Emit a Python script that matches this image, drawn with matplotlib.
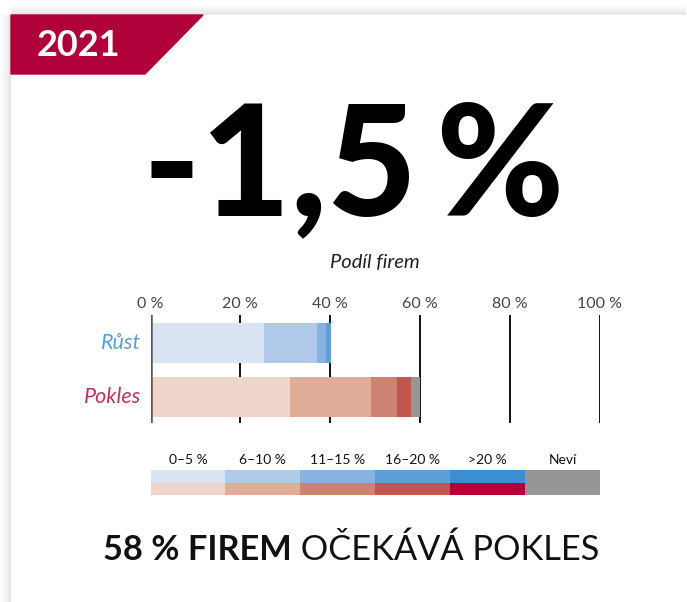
import numpy as np
import matplotlib
matplotlib.use("Agg")
import matplotlib.pyplot as plt
from matplotlib.patches import Polygon, Rectangle

# ---- data ----
year = "2021"
headline = "-1,5\u2009%"
categories = ["Růst", "Pokles"]
ranges = ["0–5 %", "6–10 %", "11–15 %", "16–20 %", ">20 %"]
nevi_label = "Neví"
rust = [25.3, 11.8, 2.0, 1.0, 0.0]
pokles = [31.1, 18.0, 5.8, 3.1, 0.0]
nevi = [0.0, 2.0]
ticks = [0, 20, 40, 60, 80, 100]
tick_labels = ["0 %", "20 %", "40 %", "60 %", "80 %", "100 %"]
axis_title = "Podíl firem"
summary_bold = "58 % FIREM"
summary_rest = " OČEKÁVÁ POKLES"

blues = ["#d9e3f4", "#b1caea", "#8ab2e0", "#5f9fd7", "#3a8ed1"]
reds = ["#efd5ca", "#dfad98", "#ce8372", "#bf5650", "#b3003b"]
grey = "#969696"
banner_red = "#b0003a"

FONT = ["Lato", "DejaVu Sans"]
plt.rcParams["font.family"] = FONT

W, H = 687, 602
fig = plt.figure(figsize=(W / 100, H / 100), dpi=100)
fig.patch.set_facecolor("white")

bg = fig.add_axes([0, 0, 1, 1])
bg.set_xlim(0, W)
bg.set_ylim(H, 0)
bg.axis("off")

# card shadow
g = np.linspace(0, 1, 64)
top = np.tile(g[:, None], (1, 2))
bg.imshow(top, extent=(11, 686, 15, 4), cmap="Greys", vmin=0, vmax=5, aspect="auto",
          interpolation="bilinear", zorder=0)
left = np.tile(g[None, :], (2, 1))
bg.imshow(left, extent=(0, 11, H, 15), cmap="Greys", vmin=0, vmax=5, aspect="auto",
          interpolation="bilinear", zorder=0)
bg.add_patch(Rectangle((11, 15), W - 11, H - 15, color="white", zorder=1))

# banner
bg.add_patch(Polygon([(11, 15), (203, 15), (145, 74), (11, 74)], closed=True,
                     color=banner_red, zorder=2))
bg.text(78, 46, year, color="white", fontsize=26, fontweight="bold", ha="center",
        va="center", zorder=3)

fig.canvas.draw()
r = fig.canvas.get_renderer()

# headline, scaled to span x 147..560
hl = bg.text(353.5, 215, headline, fontsize=104, fontweight="black", ha="center",
             va="baseline", color="black", zorder=3)
wh = hl.get_window_extent(r).width
hl.set_fontsize(104 * 422 / wh)

bg.text(375, 262, axis_title, fontsize=14.5, style="italic",
        ha="center", va="center", color="#222222", zorder=3)

# ---- bar chart ----
ax = fig.add_axes([150.5 / W, (H - 423) / H, 449 / W, 108 / H])
ax.set_xlim(0, 100)
ax.set_ylim(1.481, -0.5185)
ax.axis("off")
ypos = [0, 1]
lefts = [0.0, 0.0]
for i in range(len(ranges)):
    vals = [rust[i], pokles[i]]
    ax.barh(ypos, vals, left=lefts, height=0.74, color=[blues[i], reds[i]],
            linewidth=0, zorder=2)
    lefts = [lefts[0] + vals[0], lefts[1] + vals[1]]
ax.barh(ypos, nevi, left=lefts, height=0.74, color=grey, linewidth=0, zorder=2)
for t in ticks:
    ax.axvline(t, color="#555555" if t == 0 else "#111111",
               lw=1.8 if t == 0 else 1.4, zorder=1 if t else 3)
for t, lab in zip(ticks, tick_labels):
    ax.text(t, -0.59, lab, ha="center", va="bottom",
            fontsize=11.5, color="#444444")
cat_colors = ["#5b9fd6", "#c2305c"]
for y, c, col in zip(ypos, categories, cat_colors):
    ax.text(-2.0, y, c, ha="right", va="center", fontsize=15.5, style="italic",
            color=col)

# ---- legend ----
lg = fig.add_axes([150.5 / W, (H - 495) / H, 449.5 / W, 25 / H])
lg.set_xlim(0, 6)
lg.set_ylim(2, 0)
lg.axis("off")
xs = np.arange(len(ranges))
lg.bar(xs, [1] * len(ranges), bottom=0, width=1.0, align="edge", color=blues, linewidth=0)
lg.bar(xs, [1] * len(ranges), bottom=1, width=1.0, align="edge", color=reds, linewidth=0)
lg.bar([len(ranges)], [2], bottom=0, width=1.0, align="edge", color=grey, linewidth=0)
for i, lab in enumerate(ranges + [nevi_label]):
    lg.text(i + 0.5, -0.35, lab, ha="center", va="bottom", fontsize=10,
            color="#111111")

# ---- summary, scaled to span x 103..600 ----
fs = 23
t1 = bg.text(0, 560, summary_bold, fontsize=fs, fontweight="bold", va="baseline",
             color="#111111")
t2 = bg.text(0, 560, summary_rest, fontsize=fs, va="baseline", color="#111111")
w = t1.get_window_extent(r).width + t2.get_window_extent(r).width
fs2 = fs * 497 / w
t1.set_fontsize(fs2)
t2.set_fontsize(fs2)
w1 = t1.get_window_extent(r).width
t1.set_x(103)
t2.set_x(103 + w1)

fig.savefig("out.png", dpi=100, facecolor="white")
